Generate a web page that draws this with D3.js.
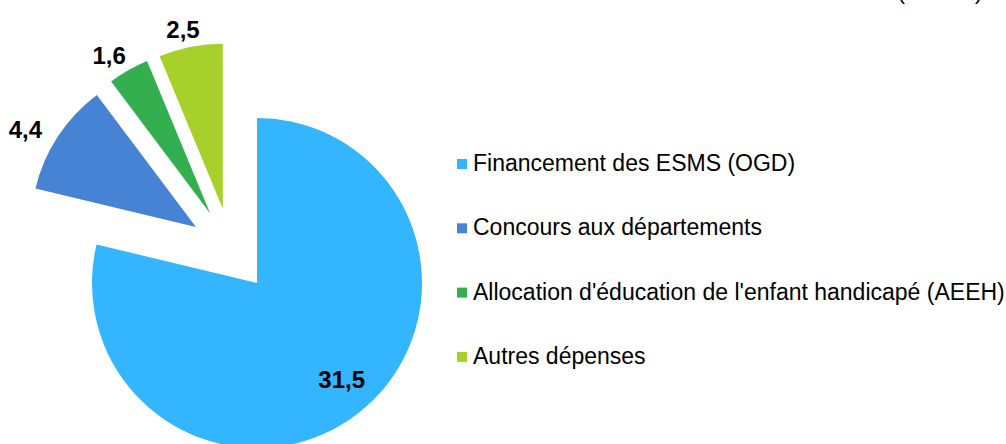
<!DOCTYPE html>
<html>
<head>
<meta charset="utf-8">
<script src="https://cdn.jsdelivr.net/npm/d3@7"></script>
<style>
body{margin:0;background:#fff;}
text{font-family:"Liberation Sans",Arial,sans-serif;}
</style>
</head>
<body>
<script>
var width = 1006;
var height = 444;

// data
var categories = ["Financement des ESMS (OGD)","Concours aux départements","Allocation d'éducation de l'enfant handicapé (AEEH)","Autres dépenses"];
var values = [31.5,4.4,1.6,2.5];
var colors = ["#33b5ff","#4783d5","#33af50","#a7d02b"];
var unitLabel = "(en Md€)";

var svg = d3.select("body")
.append("svg")
.attr("width",width)
.attr("height",height);

var cx = 231, cy = 250;
var radius = 165;
var explode = 42;

var pie = d3.pie()
.sort(null)
.value(function(d){return d;});

var arcs = pie(values);

var arc = d3.arc()
.innerRadius(0)
.outerRadius(radius);

function mid(d){ return (d.startAngle + d.endAngle) / 2; }
function dir(d){
	var a = mid(d);
	return [Math.sin(a), -Math.cos(a)];
}

var slices = svg.append("g")
.attr("transform","translate(" + cx + "," + cy + ")");

var g = slices.selectAll("g.slice")
.data(arcs)
.enter()
.append("g")
.attr("class","slice")
.attr("transform",function(d){
	var u = dir(d);
	return "translate(" + u[0] * explode + "," + u[1] * explode + ")";
});

g.append("path")
.attr("d",arc)
.attr("fill",function(d,i){return colors[i];});

var fmt = function(v){ return d3.format(".1f")(v).replace(".",","); };

// labels: inside for the big slice, outside end for the others
g.append("text")
.attr("transform",function(d){
	var u = dir(d);
	var big = (d.endAngle - d.startAngle) > Math.PI;
	var x, y;
	if(big){
		x = u[0] * radius * 0.78 + 5;
		y = u[1] * radius * 0.78 - 4;
	} else {
		x = u[0] * (radius + 25) + u[0] * 14;
		y = u[1] * (radius + 25) + 7;
	}
	return "translate(" + x + "," + y + ")";
})
.attr("text-anchor","middle")
.attr("dy","0.35em")
.attr("font-size",24)
.attr("font-weight","bold")
.attr("fill","#000")
.text(function(d){return fmt(d.data);});

// legend
var legend = svg.append("g")
.attr("transform","translate(457,0)");

var item = legend.selectAll("g")
.data(categories)
.enter()
.append("g")
.attr("transform",function(d,i){return "translate(0," + (171 + i * 64.3) + ")";});

item.append("rect")
.attr("x",0)
.attr("y",-12)
.attr("width",10)
.attr("height",10)
.attr("fill",function(d,i){return colors[i];});

item.append("text")
.attr("x",16)
.attr("y",0)
.attr("font-size",23)
.attr("fill","#000")
.text(function(d){return d;});

svg.append("text")
.attr("x",898)
.attr("y",0)
.attr("font-size",21)
.attr("fill","#000")
.text(unitLabel);
</script>
</body>
</html>
